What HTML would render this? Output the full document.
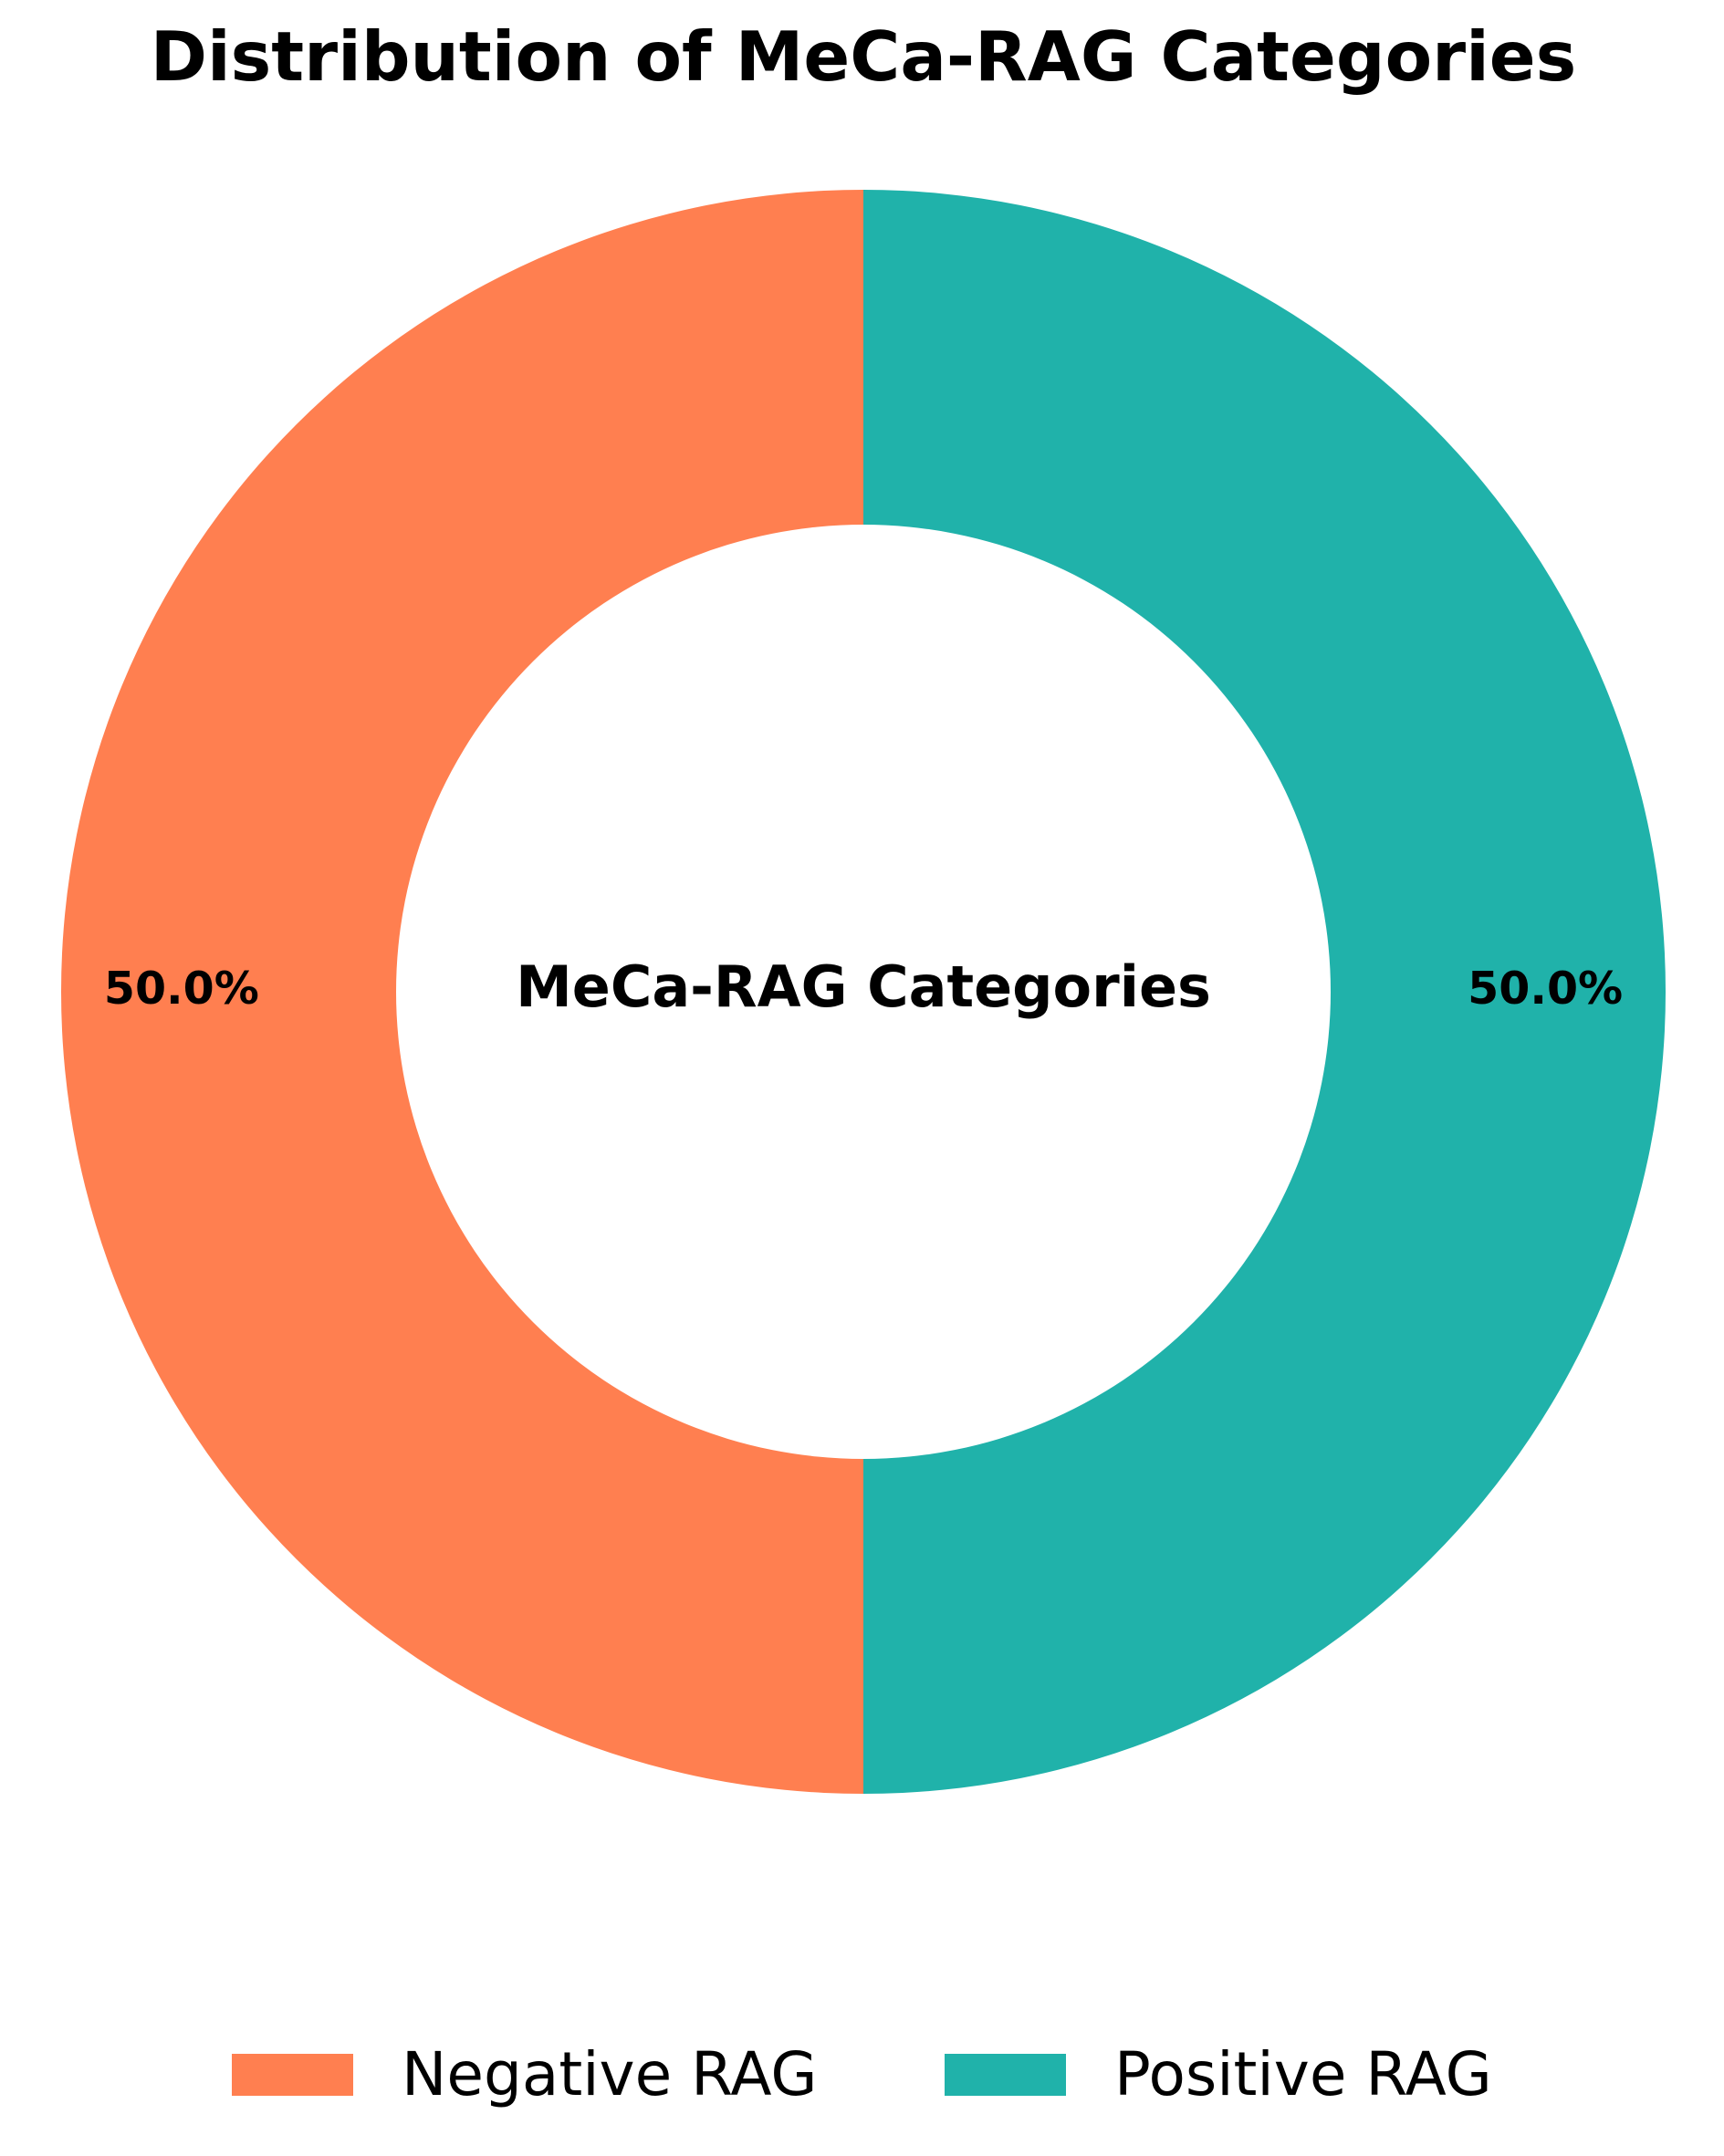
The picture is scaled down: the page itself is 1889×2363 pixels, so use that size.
<!DOCTYPE html>
<html>
<head>
<meta charset="utf-8">
<style>
  html, body { margin: 0; padding: 0; background: #fff; }
  svg { display: block; font-family: "DejaVu Sans", "Liberation Sans", sans-serif; }
</style>
</head>
<body>
<svg id="chart" width="1889" height="2363" viewBox="0 0 1889 2363" xmlns="http://www.w3.org/2000/svg">
  <text x="946" y="88" text-anchor="middle" font-size="75" font-weight="bold" fill="#000">Distribution of MeCa-RAG Categories</text>
  <g id="wedges"></g>
  <text x="946" y="1103" text-anchor="middle" font-size="62" font-weight="bold" fill="#000">MeCa-RAG Categories</text>
  <g id="legend"></g>
</svg>
<script>
const categories = ["Negative RAG", "Positive RAG"];
const values = [50, 50];
const colors = ["#FF7F50", "#20B2AA"];

const NS = "http://www.w3.org/2000/svg";
const cx = 946, cy = 1087, rOut = 879, rIn = 512, pctDist = 0.85;
const total = values.reduce((a, b) => a + b, 0);
const wg = document.getElementById("wedges");
let ang = 90;
function pt(r, a) { const t = a * Math.PI / 180; return [cx + r * Math.cos(t), cy - r * Math.sin(t)]; }
values.forEach((v, i) => {
  const sweep = v / total * 360;
  const a0 = ang, a1 = ang + sweep;
  const large = sweep > 180 ? 1 : 0;
  const p0 = pt(rOut, a0), p1 = pt(rOut, a1), q1 = pt(rIn, a1), q0 = pt(rIn, a0);
  const path = document.createElementNS(NS, "path");
  path.setAttribute("d", `M${p0[0]},${p0[1]} A${rOut},${rOut} 0 ${large} 0 ${p1[0]},${p1[1]} L${q1[0]},${q1[1]} A${rIn},${rIn} 0 ${large} 1 ${q0[0]},${q0[1]} Z`);
  path.setAttribute("fill", colors[i]);
  
  
  wg.appendChild(path);
  const mid = (a0 + a1) / 2;
  const lp = pt(rOut * pctDist, mid);
  const t = document.createElementNS(NS, "text");
  t.setAttribute("x", lp[0]); t.setAttribute("y", lp[1] + 13);
  t.setAttribute("text-anchor", "middle");
  t.setAttribute("font-size", "49"); t.setAttribute("font-weight", "bold");
  t.textContent = (v / total * 100).toFixed(1) + "%";
  
  
  wg.appendChild(t);
  ang = a1;
});
const lg = document.getElementById("legend");
const legX = [254, 1035];
categories.forEach((c, i) => {
  const g = document.createElementNS(NS, "g");
  
  
  const r = document.createElementNS(NS, "rect");
  r.setAttribute("x", legX[i]); r.setAttribute("y", 2251);
  r.setAttribute("width", 133); r.setAttribute("height", 46);
  r.setAttribute("fill", colors[i]);
  g.appendChild(r);
  const t = document.createElementNS(NS, "text");
  t.setAttribute("x", legX[i] + 186); t.setAttribute("y", 2296);
  t.setAttribute("font-size", "66");
  t.textContent = c;
  g.appendChild(t);
  lg.appendChild(g);
});
</script>
</body>
</html>
